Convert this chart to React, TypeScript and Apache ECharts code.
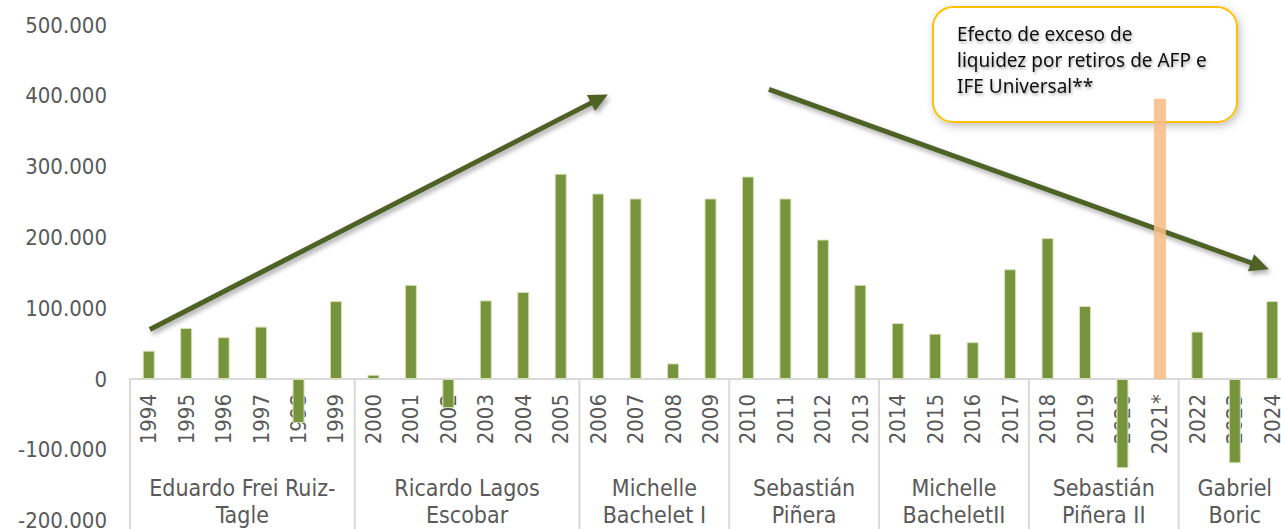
import React, { useEffect, useRef } from "react";
import * as echarts from "echarts";

const years = [
  "1994", "1995", "1996", "1997", "1998", "1999",
  "2000", "2001", "2002", "2003", "2004", "2005",
  "2006", "2007", "2008", "2009",
  "2010", "2011", "2012", "2013",
  "2014", "2015", "2016", "2017",
  "2018", "2019", "2020", "2021*",
  "2022", "2023", "2024",
];

const values: (number | null)[] = [
  40000, 72000, 59000, 74000, -62000, 110000,
  6000, 133000, -41000, 111000, 123000, 290000,
  262000, 255000, 22000, 255000,
  286000, 255000, 197000, 133000,
  79000, 64000, 52000, 155000,
  199000, 103000, -126000, null,
  67000, -119000, 110000,
];

const excessValues: (number | null)[] = years.map((y) => (y === "2021*" ? 396000 : null));

const groupNames = [
  "Eduardo Frei Ruiz-\nTagle",
  "Ricardo Lagos\nEscobar",
  "Michelle\nBachelet I",
  "Sebastián\nPiñera",
  "Michelle\nBacheletII",
  "Sebastián\nPiñera II",
  "Gabriel\nBoric",
];
const groupSizes = [6, 6, 4, 4, 4, 4, 3];

const yTicks = { min: -200000, max: 500000, interval: 100000 };

// Trend arrows in data units: [category index, value]
const arrows = [
  { from: [0.03, 70000], to: [12.26, 402000] },
  { from: [16.56, 409000], to: [29.91, 155000] },
];

const noteLines = "Efecto de exceso de\nliquidez por retiros de AFP e\nIFE Universal**";

const AXIS_FONT = "'DejaVu Sans Condensed', 'DejaVu Sans', sans-serif";
const GRAY = "#595959";

function fmt(v: number): string {
  if (v === 0) return "0";
  const s = Math.abs(v).toString().replace(/\B(?=(\d{3})+(?!\d))/g, ".");
  return (v < 0 ? "-" : "") + s;
}

export default function App() {
  const ref = useRef<HTMLDivElement>(null);
  useEffect(() => {
    if (!ref.current) return;
    const chart = echarts.init(ref.current, null, { renderer: "svg" });
    const option: any = {
      animation: false,
      backgroundColor: "#ffffff",
      grid: {
        left: 130,
        right: -10,
        top: 25,
        height: 495.6,
        containLabel: false,
        outerBoundsMode: "none",
      },
      xAxis: {
        type: "category",
        data: years,
        axisLine: { onZero: true, lineStyle: { color: "#d9d9d9", width: 2 } },
        axisTick: { show: false },
        axisLabel: { show: false },
        splitLine: { show: false },
      },
      yAxis: {
        type: "value",
        min: yTicks.min,
        max: yTicks.max,
        interval: yTicks.interval,
        axisLine: { show: false },
        axisTick: { show: false },
        splitLine: { show: false },
        axisLabel: {
          margin: 23,
          fontSize: 22,
          fontFamily: AXIS_FONT,
          color: GRAY,
          formatter: (v: number) => fmt(v),
        },
      },
      series: [
        {
          type: "bar",
          data: values,
          barWidth: 12,
          z: 2,
          itemStyle: { color: "#77933C", borderColor: "#d3e2b6", borderWidth: 1 },
        },
        {
          type: "bar",
          data: excessValues,
          barWidth: 12,
          barGap: "-100%",
          z: 4,
          itemStyle: { color: "#F8BC88", opacity: 0.88 },
        },
      ],
    };
    chart.setOption(option);

    const x0 = chart.convertToPixel({ xAxisIndex: 0 }, years[0]) as number;
    const x1 = chart.convertToPixel({ xAxisIndex: 0 }, years[1]) as number;
    const band = x1 - x0;
    const catX = (i: number) => x0 + i * band;
    const valY = (v: number) => chart.convertToPixel({ yAxisIndex: 0 }, v) as number;
    const zeroY = valY(0);
    const H = 529;

    const els: any[] = [];

    // Year tick labels (rotated, reading upward, hanging below the zero line)
    years.forEach((y, i) => {
      els.push({
        type: "text",
        z: 1,
        x: catX(i),
        y: zeroY + 15,
        rotation: Math.PI / 2,
        style: {
          text: y,
          align: "right",
          verticalAlign: "middle",
          font: `22px ${AXIS_FONT}`,
          fill: GRAY,
        },
      });
    });

    let start = 0;
    groupSizes.forEach((n, gi) => {
      const bx = catX(start) - band / 2;
      els.push({
        type: "line",
        z: 1,
        shape: { x1: bx, y1: zeroY, x2: bx, y2: H },
        style: { stroke: "#d9d9d9", lineWidth: 2 },
      });
      els.push({
        type: "text",
        z: 1,
        x: catX(start + (n - 1) / 2),
        y: zeroY + 95,
        style: {
          text: groupNames[gi],
          align: "center",
          verticalAlign: "top",
          lineHeight: 27,
          font: `23px ${AXIS_FONT}`,
          fill: GRAY,
        },
      });
      start += n;
    });

    // Note box
    els.push({
      type: "rect",
      z: 1,
      shape: { x: 933, y: 7, width: 304, height: 115, r: 20 },
      style: {
        fill: "#ffffff",
        stroke: "#FFC000",
        lineWidth: 2,
        shadowColor: "rgba(0,0,0,0.25)",
        shadowBlur: 8,
        shadowOffsetX: 2,
        shadowOffsetY: 3,
      },
    });
    els.push({
      type: "text",
      z: 6,
      x: 957,
      y: 21,
      style: {
        text: noteLines,
        align: "left",
        verticalAlign: "top",
        lineHeight: 26,
        font: "19px 'Noto Sans', sans-serif",
        fill: "#111111",
        textShadowColor: "rgba(0,0,0,0.35)",
        textShadowBlur: 3,
        textShadowOffsetX: 1,
        textShadowOffsetY: 2,
      },
    });

    // Arrows
    arrows.forEach((a) => {
      const sx = catX(a.from[0]);
      const sy = valY(a.from[1]);
      const ex = catX(a.to[0]);
      const ey = valY(a.to[1]);
      const dx = ex - sx;
      const dy = ey - sy;
      const len = Math.sqrt(dx * dx + dy * dy);
      const ux = dx / len;
      const uy = dy / len;
      const headL = 19;
      const headW = 9;
      const bx = ex - ux * headL;
      const by = ey - uy * headL;
      const shadow = {
        shadowColor: "rgba(0,0,0,0.35)",
        shadowBlur: 5,
        shadowOffsetX: 2,
        shadowOffsetY: 3,
      };
      els.push({
        type: "line",
        z: 1,
        shape: { x1: sx, y1: sy, x2: bx + ux * 2, y2: by + uy * 2 },
        style: { stroke: "#4F6228", lineWidth: 5, ...shadow },
      });
      els.push({
        type: "polygon",
        z: 1,
        shape: {
          points: [
            [ex, ey],
            [bx - uy * headW, by + ux * headW],
            [bx + uy * headW, by - ux * headW],
          ],
        },
        style: { fill: "#4F6228", ...shadow },
      });
    });

    chart.setOption({ graphic: { elements: els } });
    return () => chart.dispose();
  }, []);

  return (
    <div
      ref={ref}
      style={{ position: "fixed", left: 0, top: 0, width: 1281, height: 529, background: "#fff" }}
    />
  );
}
